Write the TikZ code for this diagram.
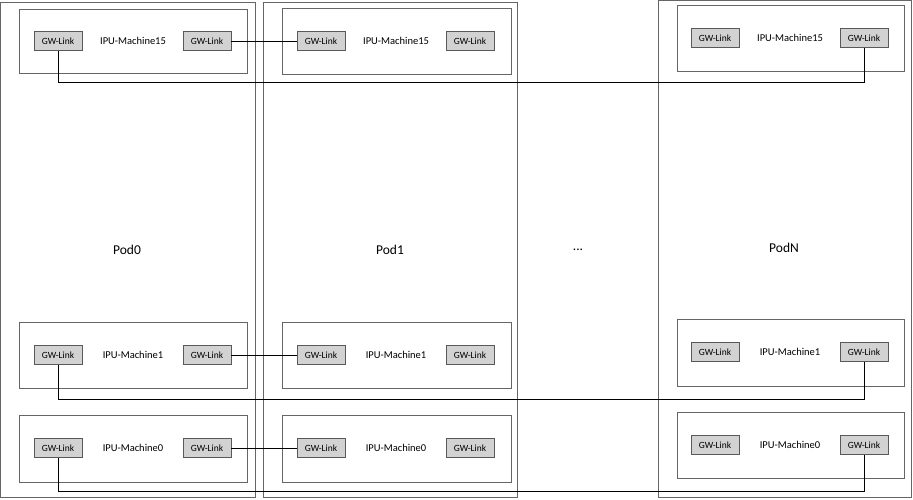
\documentclass[tikz,border=0pt]{standalone}
\usepackage{fontspec}
\setmainfont{Carlito}
\begin{document}
\begin{tikzpicture}[x=1pt,y=-1pt,
  pod/.style={draw=gray!80!black,line width=0.7pt},
  mach/.style={draw=gray!80!black,line width=0.7pt},
  gw/.style={draw=gray!70!black,fill=gray!35,line width=0.6pt,minimum width=48pt,minimum height=19pt,inner sep=0pt,font=\fontsize{9.5}{10}\selectfont},
  lbl/.style={font=\fontsize{10.5}{11}\selectfont},
  plbl/.style={font=\fontsize{13.5}{14}\selectfont},
  conn/.style={draw=black,line width=0.8pt}]
\useasboundingbox (0,0) rectangle (913,499);
% pods
\draw[pod] (0,2) rectangle (255,497);
\draw[pod] (263,2) rectangle (517,497);
\draw[pod] (658,0) rectangle (911,497);
\node[plbl] (p0) at (127,250) {Pod0};
\node[plbl] (p1) at (390,250) {Pod1};
\node[plbl] (dots) at (578,250) {...};
\node[plbl] (pn) at (784,248) {PodN};
% machines
\draw[mach] (19,9) rectangle (247,73);
\draw[mach] (19,322) rectangle (247,388);
\draw[mach] (19,415) rectangle (247,482);
\draw[mach] (282,8) rectangle (511,74);
\draw[mach] (282,322) rectangle (511,388);
\draw[mach] (282,415) rectangle (511,482);
\draw[mach] (677,5) rectangle (904,71);
\draw[mach] (677,319) rectangle (904,386);
\draw[mach] (677,412) rectangle (904,478);
% machine 15
\node[gw] (a15l) at (58,41) {GW-Link};
\node[lbl] (a15) at (133,41) {IPU-Machine15};
\node[gw] (a15r) at (207,41) {GW-Link};
\node[gw] (b15l) at (321,41) {GW-Link};
\node[lbl] (b15) at (396,41) {IPU-Machine15};
\node[gw] (b15r) at (470,41) {GW-Link};
\node[gw] (n15l) at (715,38) {GW-Link};
\node[lbl] (n15) at (790,38) {IPU-Machine15};
\node[gw] (n15r) at (864,38) {GW-Link};
% machine 1
\node[gw] (a1l) at (58,355) {GW-Link};
\node[lbl] (a1) at (133,355) {IPU-Machine1};
\node[gw] (a1r) at (207,355) {GW-Link};
\node[gw] (b1l) at (321,355) {GW-Link};
\node[lbl] (b1) at (396,355) {IPU-Machine1};
\node[gw] (b1r) at (470,355) {GW-Link};
\node[gw] (n1l) at (715,352) {GW-Link};
\node[lbl] (n1) at (790,352) {IPU-Machine1};
\node[gw] (n1r) at (864,352) {GW-Link};
% machine 0
\node[gw] (a0l) at (58,448) {GW-Link};
\node[lbl] (a0) at (133,448) {IPU-Machine0};
\node[gw] (a0r) at (207,448) {GW-Link};
\node[gw] (b0l) at (321,448) {GW-Link};
\node[lbl] (b0) at (396,448) {IPU-Machine0};
\node[gw] (b0r) at (470,448) {GW-Link};
\node[gw] (n0l) at (715,445) {GW-Link};
\node[lbl] (n0) at (790,445) {IPU-Machine0};
\node[gw] (n0r) at (864,445) {GW-Link};
% connectors
\coordinate (y15) at (0,82);
\coordinate (y1) at (0,399);
\coordinate (y0) at (0,491);
\draw[conn] (a15r) -- (b15l);
\draw[conn] (a1r) -- (b1l);
\draw[conn] (a0r) -- (b0l);
\draw[conn] (a15l.south) -- (a15l.south |- y15) -- (n15r.south |- y15) -- (n15r.south);
\draw[conn] (a1l.south) -- (a1l.south |- y1) -- (n1r.south |- y1) -- (n1r.south);
\draw[conn] (a0l.south) -- (a0l.south |- y0) -- (n0r.south |- y0) -- (n0r.south);
\end{tikzpicture}
\end{document}
